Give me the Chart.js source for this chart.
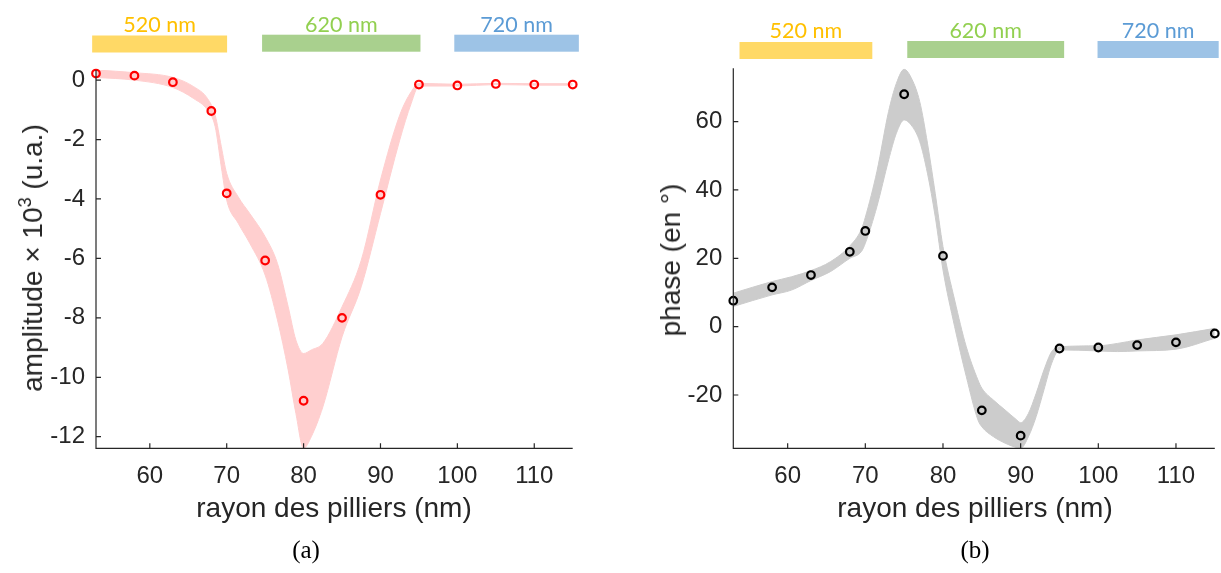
<!DOCTYPE html>
<html>
<head>
<meta charset="utf-8">
<script src="https://cdn.jsdelivr.net/npm/chart.js@4.4.1/dist/chart.umd.min.js"></script>
<style>
  body { margin: 0; background: #fff; }
  #wrap { position: relative; width: 1221px; height: 573px; overflow: hidden; }
  canvas { position: absolute; top: 0; }
  .lbl { position: absolute; font-family: "Liberation Sans", Arial, sans-serif; color: #262626; white-space: nowrap; transform: translate(-50%, -50%); }
  .ylbl { transform: translate(-50%, -50%) rotate(-90deg); }
  .cap { position: absolute; font-family: "Liberation Serif", "Times New Roman", serif; font-size: 25px; color: #000; transform: translate(-50%, -50%); }
  sup { font-size: 65%; vertical-align: 0.6em; line-height: 0; }
</style>
</head>
<body>
<div id="wrap">
  <canvas id="ampChart" width="610" height="573" style="left:0"></canvas>
  <canvas id="phaseChart" width="611" height="573" style="left:610px"></canvas>
  <div class="lbl ylbl" style="left:33px; top:258px; font-size:28px">amplitude × 10<sup>3</sup> (u.a.)</div>
  <div class="lbl" style="left:334px; top:508px; font-size:28px">rayon des pilliers (nm)</div>
  <div class="lbl ylbl" style="left:671px; top:260px; font-size:28px">phase (en °)</div>
  <div class="lbl" style="left:975px; top:508px; font-size:28px">rayon des pilliers (nm)</div>
  <div class="cap" style="left:306px; top:550px">(a)</div>
  <div class="cap" style="left:975px; top:550px">(b)</div>
</div>
<script>
// pillar radius (nm)
var radii = [53, 58, 63, 68, 70, 75, 80, 85, 90, 95, 100, 105, 110, 115];
var amplitude = [0.22, 0.15, -0.07, -1.04, -3.81, -6.07, -10.79, -8.0, -3.86, -0.15, -0.18, -0.13, -0.15, -0.15];
var phase = [7.6, 11.5, 15.1, 21.9, 28.0, 68.0, 20.7, -24.5, -31.9, -6.4, -6.1, -5.4, -4.6, -2.0];

// uncertainty bands
var ampBandX = [53, 58, 63, 65.7, 67.5, 68.5, 69.3, 70, 71.5, 73, 75, 76.6, 78, 79, 80, 81, 82.5, 85, 87.5, 90, 92.5, 94, 95, 100, 105, 110, 115];
var ampUpper = [0.34, 0.25, 0.09, -0.22, -0.62, -1.18, -2.24, -3.14, -3.93, -4.49, -5.27, -6.17, -7.63, -8.75, -9.2, -9.08, -8.86, -7.63, -6.06, -3.36, -1.18, -0.39, -0.11, -0.14, -0.11, -0.12, -0.12];
var ampLower = [0.09, 0.0, -0.25, -0.62, -1.01, -1.57, -2.92, -4.04, -4.82, -5.49, -6.56, -8.07, -9.76, -11.22, -12.39, -12.0, -11.0, -8.64, -6.95, -4.49, -2.02, -0.78, -0.2, -0.2, -0.15, -0.17, -0.17];

var phaseBandX = [53, 58, 60.5, 63, 65.5, 68, 69.5, 70, 71.5, 73, 74, 75, 76, 77, 78, 79, 80, 81.5, 83, 84.5, 85, 86.5, 88, 89.5, 90, 91, 92, 93, 94, 95, 100, 102.5, 105, 110, 115];
var phaseUpper = [9.8, 13.2, 14.6, 16.4, 19.0, 23.6, 28.5, 32.0, 45.5, 63.0, 71.2, 75.3, 72.4, 65.9, 53.7, 39.0, 23.4, 7.8, -5.9, -15.6, -18.0, -21.5, -24.4, -27.3, -28.1, -25.4, -19.5, -12.7, -7.3, -5.9, -5.6, -4.9, -3.9, -2.4, -0.5];
var phaseLower = [5.9, 9.3, 10.7, 13.5, 16.1, 20.0, 22.0, 24.4, 35.2, 48.8, 56.6, 60.5, 58.7, 54.2, 44.9, 32.2, 16.6, 0.0, -14.6, -27.3, -29.3, -32.2, -34.1, -35.4, -35.6, -32.2, -26.3, -18.5, -10.7, -6.8, -7.1, -7.3, -7.1, -6.6, -3.4];

// tick labels
var xTicks = [60, 70, 80, 90, 100, 110];
var ampTicks = [0, -2, -4, -6, -8, -10, -12];
var phaseTicks = [-20, 0, 20, 40, 60];

// wavelength bars above each plot
var bandNames = ['520 nm', '620 nm', '720 nm'];
var ampBars = [[52.5, 70.05], [74.6, 95.2], [99.6, 115.8]];
var phaseBars = [[53.8, 70.9], [75.4, 95.6], [99.9, 115.5]];
var barColors = ['#FFD966', '#A9D08E', '#9DC3E6'];
var barTextColors = ['#FFC000', '#92D050', '#5B9BD5'];

function pts(xs, ys) {
    return xs.map(function (x, i) { return {x: x, y: ys[i]}; });
}

var axisColor = '#262626';

// axes drawn matlab style (ticks pointing inside) + wavelength bars
function axesPlugin(tickVals, bars, barTop, barH, textBase) {
    return {
        id: 'matlabAxes',
        afterDraw: function (chart) {
            var ctx = chart.ctx, a = chart.chartArea;
            var xs = chart.scales.x, ys = chart.scales.y;
            ctx.save();
            ctx.strokeStyle = axisColor;
            ctx.lineWidth = 1.2;
            ctx.beginPath();
            ctx.moveTo(a.left, a.top);
            ctx.lineTo(a.left, a.bottom);
            ctx.lineTo(a.right, a.bottom);
            xTicks.forEach(function (v) {
                var px = xs.getPixelForValue(v);
                ctx.moveTo(px, a.bottom);
                ctx.lineTo(px, a.bottom - 5);
            });
            tickVals.forEach(function (v) {
                var py = ys.getPixelForValue(v);
                ctx.moveTo(a.left, py);
                ctx.lineTo(a.left + 5, py);
            });
            ctx.stroke();

            ctx.font = '21.5px Lato, "Open Sans", sans-serif';
            ctx.textAlign = 'center';
            ctx.textBaseline = 'alphabetic';
            bars.forEach(function (b, i) {
                var x1 = xs.getPixelForValue(b[0]);
                var x2 = xs.getPixelForValue(b[1]);
                ctx.fillStyle = barColors[i];
                ctx.fillRect(x1, barTop[i], x2 - x1, barH);
                ctx.fillStyle = barTextColors[i];
                ctx.fillText(bandNames[i], (x1 + x2) / 2, textBase);
            });
            ctx.restore();
        }
    };
}

function makeChart(id, opts) {
    var ctx = document.getElementById(id);
    return new Chart(ctx, {
        type: 'line',
        data: {
            datasets: [
                {
                    // markers first so they are drawn on top of the band
                    data: pts(radii, opts.values),
                    showLine: false,
                    pointRadius: 3.8,
                    pointBorderWidth: 2.2,
                    pointBorderColor: opts.markColor,
                    pointBackgroundColor: 'rgba(0,0,0,0)',
                    clip: false
                },
                {
                    data: pts(opts.bandX, opts.upper),
                    borderColor: opts.bandColor,
                    borderWidth: 1,
                    pointRadius: 0,
                    cubicInterpolationMode: 'monotone',
                    fill: false
                },
                {
                    data: pts(opts.bandX, opts.lower),
                    borderColor: opts.bandColor,
                    borderWidth: 1,
                    backgroundColor: opts.bandColor,
                    pointRadius: 0,
                    cubicInterpolationMode: 'monotone',
                    fill: '-1'
                }
            ]
        },
        options: {
            responsive: false,
            devicePixelRatio: 1,
            animation: false,
            layout: { padding: { top: opts.top, right: opts.right, left: 0, bottom: 0 } },
            plugins: { legend: { display: false }, tooltip: { enabled: false } },
            scales: {
                x: {
                    type: 'linear',
                    min: 53,
                    max: 115,
                    grid: { display: false, drawTicks: false },
                    border: { display: false },
                    ticks: {
                        color: axisColor,
                        padding: 14,
                        maxRotation: 0,
                        font: { family: '"Liberation Sans", Arial, sans-serif', size: 24 }
                    },
                    afterBuildTicks: function (s) {
                        s.ticks = xTicks.map(function (v) { return {value: v}; });
                    },
                    afterFit: function (s) { s.height = 573 - opts.bottom; }
                },
                y: {
                    type: 'linear',
                    min: opts.ymin,
                    max: opts.ymax,
                    grid: { display: false, drawTicks: false },
                    border: { display: false },
                    ticks: {
                        color: axisColor,
                        padding: 11,
                        font: { family: '"Liberation Sans", Arial, sans-serif', size: 24 }
                    },
                    afterBuildTicks: function (s) {
                        s.ticks = opts.ticks.map(function (v) { return {value: v}; });
                    },
                    afterFit: function (s) { s.width = opts.left; }
                }
            }
        },
        plugins: [axesPlugin(opts.ticks, opts.bars, opts.barTop, 17, opts.textBase)]
    });
}

makeChart('ampChart', {
    bandX: ampBandX, upper: ampUpper, lower: ampLower, values: amplitude,
    bandColor: '#FFCFCF', markColor: '#FF0000',
    ymin: -12.39, ymax: 0.34, ticks: ampTicks,
    top: 70, right: 37.3, left: 96, bottom: 448.3,
    bars: ampBars, barTop: [35.5, 34.7, 34.7], textBase: 31.5
});

makeChart('phaseChart', {
    bandX: phaseBandX, upper: phaseUpper, lower: phaseLower, values: phase,
    bandColor: '#CCCCCC', markColor: '#000000',
    ymin: -35.6, ymax: 75.6, ticks: phaseTicks,
    top: 68.3, right: 2.7, left: 123.3, bottom: 448.3,
    bars: phaseBars, barTop: [42, 41, 41], textBase: 37.5
});
</script>
</body>
</html>
